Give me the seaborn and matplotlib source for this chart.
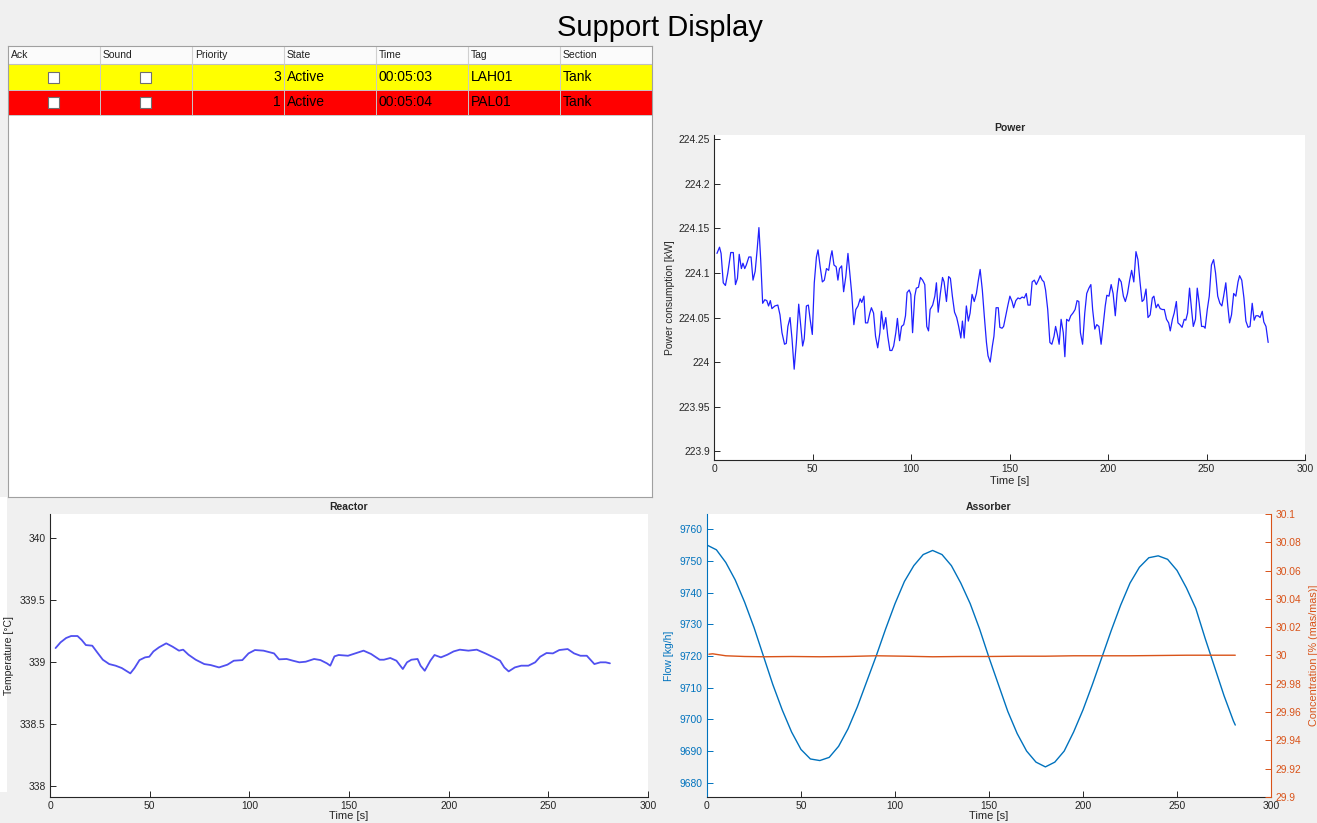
import numpy as np
import pandas as pd
import matplotlib
matplotlib.use("Agg")
import matplotlib.pyplot as plt
import seaborn as sns
from matplotlib.patches import Rectangle
from matplotlib.ticker import FuncFormatter, MultipleLocator

# ---------------- data ----------------
table_columns = ["Ack", "Sound", "Priority", "State", "Time", "Tag", "Section"]
alarm_priority = [3, 1]
alarm_state = ["Active", "Active"]
alarm_time = ["00:05:03", "00:05:04"]
alarm_tag = ["LAH01", "PAL01"]
alarm_section = ["Tank", "Tank"]
alarm_colors = ["#ffff00", "#ff0000"]

power_t = [1.5, 2.8, 3.6, 4.7, 5.8, 7.0, 8.5, 9.8, 10.9, 11.9, 12.8, 13.9, 14.7, 15.6, 16.4, 17.7,
           18.8, 19.8, 20.9, 21.9, 22.8, 23.7, 24.7, 25.8, 26.8, 27.7, 28.6, 29.4, 30.9, 32.4, 33.5,
           34.5, 35.8, 36.7, 37.5, 38.6, 39.6, 40.7, 41.8, 43.0, 43.9, 45.0, 45.8, 46.9, 47.9, 48.8,
           49.9, 50.9, 52.0, 52.8, 53.9, 55.0, 56.0, 57.1, 58.2, 59.2, 59.9, 60.9, 62.0, 62.9, 63.7,
           64.8, 65.8, 66.9, 68.0, 69.0, 69.9, 71.0, 72.0, 73.1, 74.2, 75.0, 76.1, 76.9, 78.0, 79.1,
           79.9, 81.0, 82.0, 83.1, 84.2, 85.0, 86.1, 87.2, 88.2, 89.3, 90.3, 91.2, 92.3, 93.1, 94.2,
           95.2, 96.3, 97.2, 98.0, 99.1, 99.9, 100.8, 101.9, 102.7, 103.8, 104.8, 105.9, 107.0, 108.0,
           108.9, 109.7, 111.0, 112.1, 112.9, 113.8, 114.9, 116.0, 116.8, 118.0, 119.1, 120.0, 121.0,
           122.1, 123.2, 124.2, 125.3, 126.1, 127.0, 128.1, 129.1, 130.0, 131.0, 132.1, 133.2, 134.2,
           135.1, 136.2, 137.2, 138.3, 139.1, 140.2, 141.3, 142.1, 143.2, 144.3, 145.1, 146.2, 147.0,
           148.1, 149.2, 150.2, 151.3, 152.1, 153.2, 154.3, 155.3, 156.4, 157.5, 158.5, 159.4, 160.5,
           161.5, 162.6, 163.6, 164.7, 165.6, 166.6, 167.5, 168.3, 169.4, 170.5, 171.5, 172.6, 173.4,
           174.3, 175.2, 176.2, 177.3, 178.1, 179.0, 180.1, 181.1, 182.2, 183.3, 184.3, 185.2, 186.0,
           187.1, 188.2, 189.2, 190.3, 191.3, 192.2, 193.3, 194.3, 195.4, 196.5, 197.5, 198.6, 199.4,
           200.5, 201.6, 202.6, 203.7, 204.6, 205.6, 206.7, 207.8, 208.8, 209.9, 211.0, 212.0, 213.1,
           214.2, 215.2, 216.3, 217.3, 218.2, 219.3, 220.3, 221.4, 222.5, 223.3, 224.4, 225.4, 226.5,
           227.6, 228.6, 229.7, 230.8, 231.6, 232.7, 233.6, 234.7, 235.5, 236.5, 237.6, 238.7, 239.5,
           240.4, 241.4, 242.5, 243.3, 244.4, 245.3, 246.3, 247.5, 248.6, 249.3, 250.4, 251.4, 252.5,
           253.6, 254.6, 255.7, 256.8, 257.8, 258.7, 259.8, 260.8, 261.7, 262.7, 263.8, 264.9, 266.0,
           266.8, 267.9, 269.0, 270.0, 271.1, 272.1, 273.2, 274.2, 275.1, 276.2, 277.2, 278.3, 279.1,
           280.2, 281.3]
power_kw = [224.122, 224.129, 224.122, 224.089, 224.086, 224.100, 224.123, 224.123, 224.087, 224.094,
            224.121, 224.105, 224.111, 224.105, 224.109, 224.118, 224.118, 224.092, 224.102, 224.126,
            224.151, 224.115, 224.066, 224.070, 224.069, 224.063, 224.069, 224.060, 224.063, 224.064,
            224.053, 224.033, 224.020, 224.021, 224.040, 224.050, 224.026, 223.992, 224.022, 224.065,
            224.044, 224.018, 224.026, 224.063, 224.064, 224.048, 224.031, 224.089, 224.118, 224.126,
            224.107, 224.090, 224.092, 224.105, 224.103, 224.118, 224.125, 224.109, 224.107, 224.092,
            224.105, 224.108, 224.079, 224.096, 224.122, 224.098, 224.077, 224.042, 224.059, 224.063,
            224.071, 224.067, 224.074, 224.044, 224.044, 224.055, 224.061, 224.055, 224.029, 224.016,
            224.033, 224.057, 224.037, 224.050, 224.029, 224.013, 224.013, 224.018, 224.033, 224.049,
            224.024, 224.040, 224.042, 224.052, 224.078, 224.081, 224.076, 224.033, 224.074, 224.083,
            224.084, 224.095, 224.092, 224.087, 224.040, 224.035, 224.059, 224.064, 224.074, 224.089,
            224.056, 224.077, 224.095, 224.090, 224.068, 224.096, 224.094, 224.074, 224.056, 224.050,
            224.040, 224.027, 224.046, 224.027, 224.063, 224.046, 224.055, 224.076, 224.068, 224.077,
            224.092, 224.104, 224.081, 224.052, 224.022, 224.007, 224.000, 224.018, 224.029, 224.061,
            224.061, 224.039, 224.038, 224.040, 224.052, 224.064, 224.074, 224.068, 224.061, 224.069,
            224.072, 224.071, 224.073, 224.072, 224.077, 224.064, 224.064, 224.090, 224.092, 224.087,
            224.092, 224.097, 224.092, 224.090, 224.081, 224.059, 224.022, 224.020, 224.029, 224.040,
            224.031, 224.020, 224.048, 224.033, 224.006, 224.048, 224.046, 224.052, 224.055, 224.059,
            224.069, 224.068, 224.033, 224.020, 224.055, 224.077, 224.083, 224.087, 224.059, 224.037,
            224.042, 224.040, 224.020, 224.040, 224.063, 224.075, 224.074, 224.087, 224.077, 224.052,
            224.077, 224.094, 224.090, 224.074, 224.068, 224.077, 224.092, 224.103, 224.090, 224.124,
            224.115, 224.089, 224.068, 224.070, 224.082, 224.050, 224.053, 224.072, 224.074, 224.061,
            224.065, 224.060, 224.059, 224.059, 224.048, 224.044, 224.035, 224.048, 224.055, 224.068,
            224.044, 224.042, 224.039, 224.048, 224.047, 224.055, 224.083, 224.057, 224.040, 224.048,
            224.083, 224.066, 224.040, 224.040, 224.038, 224.059, 224.074, 224.109, 224.115, 224.100,
            224.074, 224.066, 224.063, 224.074, 224.089, 224.063, 224.044, 224.053, 224.077, 224.074,
            224.090, 224.097, 224.092, 224.072, 224.046, 224.039, 224.040, 224.066, 224.047, 224.052,
            224.052, 224.050, 224.057, 224.045, 224.040, 224.022]

reactor_t = [2.8, 5.3, 8.1, 10.6, 13.8, 15.9, 18.0, 21.2, 23.7, 26.5, 29.7, 32.9, 36.0, 38.2, 40.3,
             42.4, 44.9, 47.7, 49.8, 51.9, 54.7, 58.3, 61.5, 64.7, 66.8, 69.5, 73.1, 77.4, 80.6, 84.8,
             89.0, 92.2, 96.5, 99.6, 102.8, 107.1, 112.4, 114.9, 118.7, 121.9, 125.1, 128.3, 132.5,
             135.7, 138.9, 140.6, 142.7, 144.8, 149.5, 153.7, 157.3, 161.1, 165.4, 167.5, 170.7, 173.8,
             177.0, 179.1, 181.3, 184.4, 185.9, 188.0, 190.8, 192.9, 196.1, 199.3, 202.5, 205.6, 209.9,
             214.1, 218.4, 222.6, 225.8, 227.9, 230.1, 233.2, 236.4, 240.0, 243.4, 245.9, 249.1, 252.3,
             255.5, 259.7, 262.9, 266.1, 269.3, 273.1, 276.1, 278.8, 280.9]
reactor_temp = [339.110, 339.156, 339.191, 339.207, 339.207, 339.175, 339.134, 339.129, 339.075,
                339.016, 338.981, 338.968, 338.949, 338.927, 338.906, 338.949, 339.013, 339.035,
                339.040, 339.083, 339.116, 339.148, 339.121, 339.089, 339.097, 339.056, 339.016,
                338.981, 338.973, 338.954, 338.976, 339.008, 339.013, 339.067, 339.094, 339.089,
                339.067, 339.019, 339.022, 339.008, 338.995, 339.000, 339.022, 339.013, 338.987,
                338.968, 339.043, 339.054, 339.048, 339.070, 339.089, 339.062, 339.016, 339.016,
                339.030, 339.008, 338.941, 338.995, 339.016, 339.022, 338.968, 338.927, 339.008,
                339.054, 339.035, 339.056, 339.083, 339.097, 339.089, 339.097, 339.067, 339.035,
                339.008, 338.954, 338.922, 338.954, 338.968, 338.968, 338.995, 339.040, 339.070,
                339.067, 339.094, 339.102, 339.067, 339.048, 339.048, 338.981, 338.995, 338.995,
                338.987]

flow_t = [0, 5, 10, 15, 20, 25, 30, 35, 40, 45, 50, 55, 60, 65, 70, 75, 80, 85, 90, 95, 100, 105,
          110, 115, 120, 125, 130, 135, 140, 145, 150, 155, 160, 165, 170, 175, 180, 185, 190, 195,
          200, 205, 210, 215, 220, 225, 230, 235, 240, 245, 250, 255, 260, 265, 270, 275, 280, 281]
flow_kgh = [9755.0, 9753.5, 9749.5, 9744.0, 9737.0, 9729.0, 9720.0, 9711.0, 9703.0, 9696.0, 9690.5,
            9687.5, 9687.0, 9688.0, 9691.5, 9697.0, 9704.0, 9712.0, 9720.0, 9728.5, 9736.5, 9743.5,
            9748.5, 9752.0, 9753.3, 9752.0, 9748.5, 9743.0, 9736.5, 9728.5, 9719.5, 9711.0, 9702.5,
            9695.5, 9690.0, 9686.5, 9685.0, 9686.5, 9690.0, 9696.0, 9703.0, 9711.0, 9719.5, 9728.0,
            9736.0, 9743.0, 9748.0, 9751.0, 9751.6, 9750.5, 9747.0, 9741.5, 9735.0, 9725.5, 9716.5,
            9707.5, 9699.5, 9698.2]

conc_t = [1, 3, 10, 20, 30, 45, 60, 75, 90, 105, 120, 135, 150, 165, 180, 195, 210, 225, 240, 255,
          270, 281]
conc_pct = [30.0009, 30.0012, 29.9998, 29.9993, 29.9991, 29.9993, 29.9991, 29.9993, 29.9998,
            29.9995, 29.9991, 29.9993, 29.9993, 29.9995, 29.9995, 29.9998, 29.9998, 29.9998,
            30.0000, 30.0002, 30.0002, 30.0002]

power_df = pd.DataFrame({"t": power_t, "v": power_kw})
reactor_df = pd.DataFrame({"t": reactor_t, "v": reactor_temp})
flow_df = pd.DataFrame({"t": flow_t, "v": flow_kgh})
conc_df = pd.DataFrame({"t": conc_t, "v": conc_pct})

# ---------------- style ----------------
sns.set_theme(style="white")
plt.rcParams["font.family"] = ["Liberation Sans", "DejaVu Sans"]
plt.rcParams["axes.unicode_minus"] = False

TICK_FS = 7.4
LBL_FS = 7.5
BG = "#f0f0f0"
TXT = "#262626"
BLUE = "#0072BD"
ORANGE = "#D95319"
W, H = 1317, 823

fig = plt.figure(figsize=(W / 100, H / 100), dpi=100, facecolor=BG)
fig.patches.append(Rectangle((0, 1 - 792 / H), 7 / W, 295 / H, transform=fig.transFigure,
                             facecolor="white", edgecolor="none", zorder=-5))


def box(x0, y0, x1, y1):
    return [x0 / W, 1 - y1 / H, (x1 - x0) / W, (y1 - y0) / H]


gfmt = FuncFormatter(lambda v, p: f"{v:g}")


def style_axes(ax, left_color=TXT):
    ax.set_facecolor("white")
    for s in ["top", "right"]:
        ax.spines[s].set_visible(False)
    ax.spines["left"].set_color(left_color)
    ax.spines["bottom"].set_color(TXT)
    ax.spines["left"].set_linewidth(0.8)
    ax.spines["bottom"].set_linewidth(0.8)
    ax.tick_params(axis="both", direction="in", length=4, width=0.7, labelsize=TICK_FS,
                   colors=TXT, pad=3, left=True, bottom=True)
    ax.tick_params(axis="y", colors=left_color)
    ax.grid(False)


fig.text(660 / W, 1 - 28 / H, "Support Display", ha="center", va="center", fontsize=21, color="black")

# ---------------- alarm table ----------------
axt = fig.add_axes(box(8, 46, 652, 497))
axt.set_xlim(0, 644)
axt.set_ylim(451, 0)
axt.set_xticks([])
axt.set_yticks([])
axt.set_facecolor("white")
for s in axt.spines.values():
    s.set_color("#a0a0a0")
    s.set_linewidth(0.8)

colw = 92
header_h = 18
row_h = [26, 25]
axt.add_patch(Rectangle((0, 0), 644, header_h, facecolor="#fbfbfb", edgecolor="none"))
axt.plot([0, 644], [header_h, header_h], color="#c0c0c0", lw=0.8)
for k, name in enumerate(table_columns):
    axt.text(k * colw + 3, header_h / 2, name, ha="left", va="center", fontsize=7.5, color="#202020")
    if k > 0:
        axt.plot([k * colw, k * colw], [0, header_h], color="#d0d0d0", lw=0.8)

y0 = header_h
for i in range(len(alarm_priority)):
    h = row_h[i]
    axt.add_patch(Rectangle((0, y0), 644, h, facecolor=alarm_colors[i], edgecolor="none"))
    for k in range(1, 7):
        axt.plot([k * colw, k * colw], [y0, y0 + h], color="#c8c8c8", lw=0.7)
    axt.plot([0, 644], [y0 + h, y0 + h], color="#c8c8c8", lw=0.7)
    yc = y0 + h / 2
    for k in (0, 1):
        cx = k * colw + colw / 2
        axt.add_patch(Rectangle((cx - 5.5, yc - 5.5), 11, 11, facecolor="white", edgecolor="#707070", lw=0.8))
    axt.text(3 * colw - 3, yc, str(alarm_priority[i]), ha="right", va="center", fontsize=10, color="black")
    axt.text(3 * colw + 3, yc, alarm_state[i], ha="left", va="center", fontsize=10, color="black")
    axt.text(4 * colw + 3, yc, alarm_time[i], ha="left", va="center", fontsize=10, color="black")
    axt.text(5 * colw + 3, yc, alarm_tag[i], ha="left", va="center", fontsize=10, color="black")
    axt.text(6 * colw + 3, yc, alarm_section[i], ha="left", va="center", fontsize=10, color="black")
    y0 += h

# ---------------- Power ----------------
axp = fig.add_axes(box(714, 135, 1305, 460))
sns.lineplot(data=power_df, x="t", y="v", ax=axp, color="#2020ff", linewidth=0.9)
axp.set_xlim(0, 300)
axp.set_ylim(223.89, 224.255)
axp.yaxis.set_major_locator(MultipleLocator(0.05))
axp.xaxis.set_major_locator(MultipleLocator(50))
axp.yaxis.set_major_formatter(gfmt)
style_axes(axp)
axp.set_xlabel("Time [s]", fontsize=LBL_FS + 0.5, color=TXT, labelpad=1)
axp.set_ylabel("Power consumption [kW]", fontsize=LBL_FS, color=TXT)
axp.yaxis.set_label_coords((675 - 714) / 591, 0.5)
axp.set_title("Power", fontsize=7.5, fontweight="bold", color=TXT, pad=3)

# ---------------- Reactor ----------------
axr = fig.add_axes(box(50, 514, 648, 797))
sns.lineplot(data=reactor_df, x="t", y="v", ax=axr, color="#5050f0", linewidth=1.3)
axr.set_xlim(0, 300)
axr.set_ylim(337.91, 340.19)
axr.yaxis.set_major_locator(MultipleLocator(0.5))
axr.xaxis.set_major_locator(MultipleLocator(50))
axr.yaxis.set_major_formatter(gfmt)
style_axes(axr)
axr.set_xlabel("Time [s]", fontsize=LBL_FS + 0.5, color=TXT, labelpad=0)
axr.set_ylabel("Temperature [°C]", fontsize=LBL_FS, color=TXT)
axr.yaxis.set_label_coords((14 - 50) / 598, 0.5)
axr.set_title("Reactor", fontsize=7.5, fontweight="bold", color=TXT, pad=3)

# ---------------- Assorber ----------------
axa = fig.add_axes(box(707, 514, 1271, 797))
sns.lineplot(data=flow_df, x="t", y="v", ax=axa, color=BLUE, linewidth=1.0)
axa.set_xlim(0, 300)
axa.set_ylim(9675.5, 9764.8)
axa.yaxis.set_major_locator(MultipleLocator(10))
axa.xaxis.set_major_locator(MultipleLocator(50))
axa.yaxis.set_major_formatter(gfmt)
style_axes(axa, left_color=BLUE)
axa.set_xlabel("Time [s]", fontsize=LBL_FS + 0.5, color=TXT, labelpad=0)
axa.set_ylabel("Flow [kg/h]", fontsize=LBL_FS, color=BLUE)
axa.yaxis.set_label_coords((674 - 707) / 564, 0.5)
axa.set_title("Assorber", fontsize=7.5, fontweight="bold", color=TXT, pad=3)

axc = axa.twinx()
sns.lineplot(data=conc_df, x="t", y="v", ax=axc, color=ORANGE, linewidth=1.0)
axc.set_ylim(29.9, 30.1)
axc.yaxis.set_major_locator(MultipleLocator(0.02))
axc.yaxis.set_major_formatter(gfmt)
for s in ["top", "left", "bottom"]:
    axc.spines[s].set_visible(False)
axc.spines["right"].set_visible(True)
axc.spines["right"].set_color(ORANGE)
axc.spines["right"].set_linewidth(0.8)
axc.tick_params(axis="y", direction="in", length=4, width=0.7, labelsize=TICK_FS, colors=ORANGE,
                right=True, left=False, pad=3)
axc.grid(False)
axc.set_ylabel("Concentration [% (mas/mas)]", fontsize=LBL_FS + 0.3, color=ORANGE)
axc.yaxis.set_label_coords((1309 - 707) / 564, 0.5)
axc.set_xlabel("")

fig.savefig("out.png", dpi=100, facecolor=BG)
